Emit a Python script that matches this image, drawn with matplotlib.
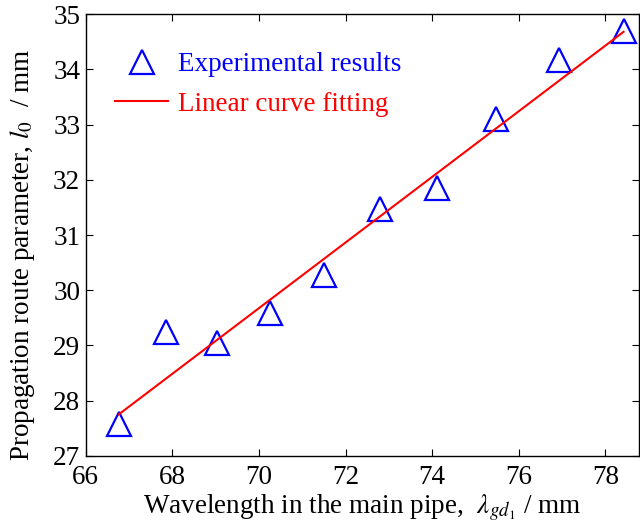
import numpy as np
import matplotlib
matplotlib.use("Agg")
import matplotlib.pyplot as plt

plt.rcParams["font.family"] = ["Liberation Serif", "DejaVu Serif"]
plt.rcParams["mathtext.fontset"] = "stix"

# experimental points
wavelength = [66.76, 67.86, 69.04, 70.25, 71.5, 72.79, 74.1, 75.47, 76.92, 78.42]
route_l0 = [27.57, 29.24, 29.04, 29.58, 30.27, 31.47, 31.85, 33.1, 34.17, 34.69]
# linear fit end points
fit_x = [66.76, 78.42]
fit_y = [27.75, 34.68]

fig = plt.figure(figsize=(6.4, 5.24), dpi=100)
ax = fig.add_axes([0.134, 0.130, 0.864, 0.843])

ax.plot(wavelength, route_l0, ls="none", marker="^", ms=17, mfc="none",
        mec="#0000ff", mew=1.6, label="Experimental results")
ax.plot(fit_x, fit_y, color="#ff0000", lw=1.5, label="Linear curve fitting")

ax.set_xlim(66, 78.77)
ax.set_ylim(27, 35)
ax.set_xticks(np.arange(66, 79, 2))
ax.set_yticks(np.arange(27, 36, 1))
ax.tick_params(direction="in", top=True, right=True, labelsize=19.5, length=5,
               width=0.8)
ax.tick_params(axis="y", pad=4)
ax.tick_params(axis="x", pad=6.5)
for s in ax.spines.values():
    s.set_linewidth(1.0)

ax.set_xlabel(r"Wavelength in the main pipe,  $\lambda_{gd_1}$ / mm", fontsize=19.5, labelpad=2)
ax.set_ylabel(r"Propagation route parameter, $l_0$  / mm", fontsize=19.5)
ax.yaxis.set_label_coords(-0.088, 0.455)

leg = ax.legend(loc="upper left", frameon=False, fontsize=19.5, handlelength=1.95,
                handletextpad=0.37, borderaxespad=0.5, labelspacing=0.53,
                bbox_to_anchor=(0.009, 0.969))
for txt, col in zip(leg.get_texts(), ["#0000ff", "#ff0000"]):
    txt.set_color(col)

fig.savefig("out.png", dpi=100)
